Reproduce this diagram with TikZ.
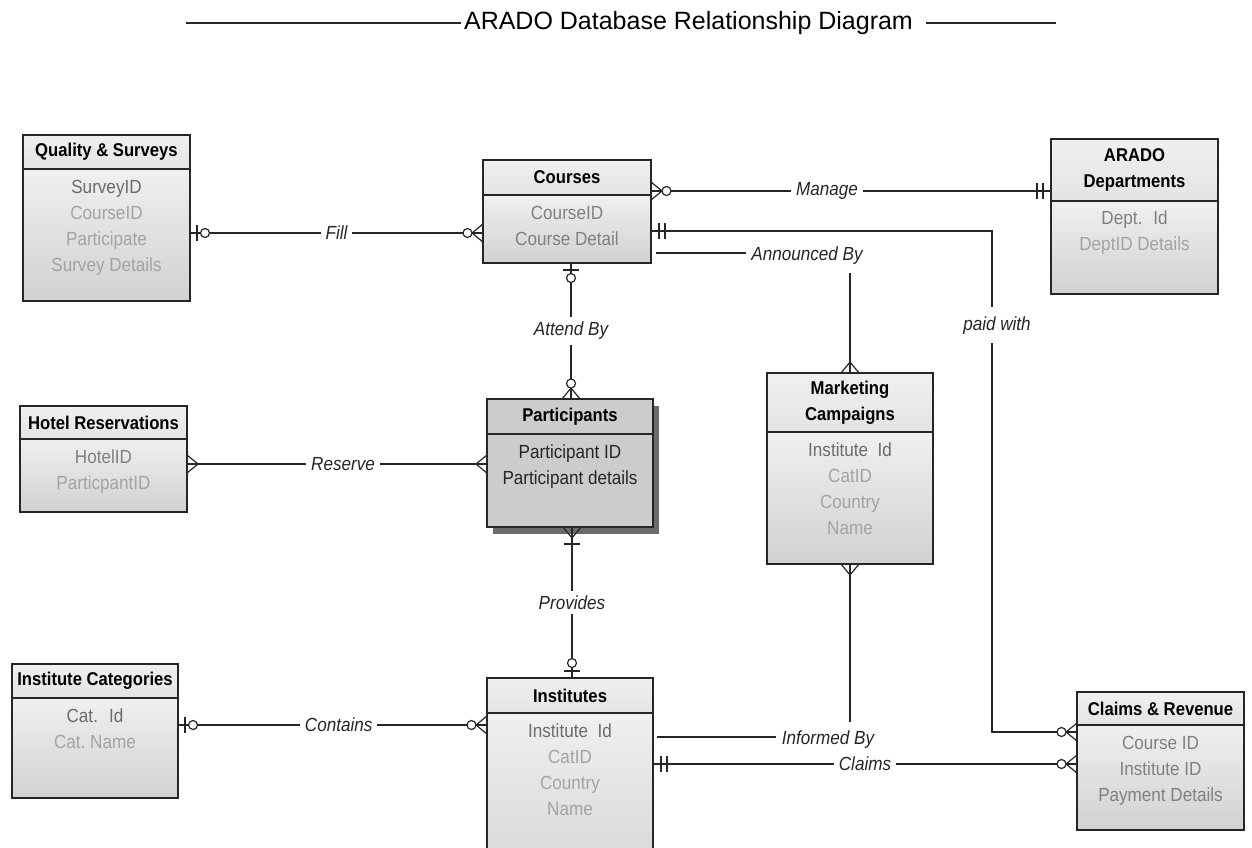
\documentclass[tikz,border=0pt]{standalone}
\usepackage{fontspec}
\setmainfont[FakeStretch=0.9]{Liberation Sans}
\newfontfamily\titlefont{Liberation Sans}
\usetikzlibrary{calc}
\usetikzlibrary{positioning}
\usetikzlibrary{shadows}

\definecolor{boxtop}{gray}{0.94}
\definecolor{boxbot}{gray}{0.82}
\definecolor{keytext}{gray}{0.42}
\definecolor{midtext}{gray}{0.50}
\definecolor{plaintext}{gray}{0.64}
\definecolor{partfill}{gray}{0.80}
\definecolor{partshadow}{gray}{0.42}

\tikzset{
    entity/.style = {
        draw=black!85,
        line width=1.3pt,
        outer sep=0pt,
        inner sep=0pt,
        anchor=north west,
        top color=boxtop,
        bottom color=boxbot,
    },
    header/.style = {
        entity,
        align=center,
        font=\bfseries\fontsize{18.5}{26}\selectfont,
        bottom color=boxtop!95!black,
    },
    fields/.style = {
        anchor=north,
        align=center,
        inner sep=0pt,
        font=\fontsize{19}{26}\selectfont,
        text=plaintext,
    },
    rel/.style = {
        line width=1.2pt,
        black!85,
    },
    relname/.style = {
        fill=white,
        inner sep=5pt,
        text=black!85,
        font=\itshape\fontsize{19}{22}\selectfont,
    },
    one/.pic = {
        \draw (8,-8) -- (8,8) (14,-8) -- (14,8);
    },
    zeroone/.pic = {
        \draw (7,-8) -- (7,8);
        \draw[fill=white] (15,0) circle[radius=4.5pt];
    },
    many/.pic = {
        \draw (0,-9) -- (11,0) -- (0,9);
    },
    zeromany/.pic = {
        \draw (0,-9) -- (11,0) -- (0,9);
        \draw[fill=white] (15.5,0) circle[radius=4.5pt];
    },
    onemany/.pic = {
        \draw (0,-9) -- (11,0) -- (0,9);
        \draw (17,-8) -- (17,8);
    },
}

\begin{document}
\begin{tikzpicture}[x=1pt, y=-1pt]
  \useasboundingbox (0,0) rectangle (1252,847);
  \clip (0,0) rectangle (1252,847);

  % Title with its rules
  \node[font=\titlefont\fontsize{25}{30}\selectfont, inner sep=3pt] (title) at (688.5,23) {ARADO Database Relationship Diagram};
  \coordinate (titleRuleL) at (186,23);
  \coordinate (titleRuleR) at (1056,23);
  \draw[rel] (titleRuleL) -- (title.west);
  \draw[rel] ([xshift=10pt]title.east) -- (titleRuleR);

  % Tables
  \node[header, minimum width=167, minimum height=34] (qsHead) at (23,135) {Quality \& Surveys};
  \node[entity, minimum width=167, minimum height=132] (qs) at (qsHead.south west) {};
  \node[fields] at ([yshift=-11pt]qs.north) {\textcolor{keytext}{SurveyID}\\CourseID\\Participate\\Survey Details};

  \node[header, minimum width=168, minimum height=35] (coursesHead) at (483,160) {Courses};
  \node[entity, minimum width=168, minimum height=68] (courses) at (coursesHead.south west) {};
  \node[fields, text=midtext] at ([yshift=-11pt]courses.north) {CourseID\\Course Detail};

  \node[header, minimum width=167, minimum height=62] (deptHead) at (1051,139) {ARADO\\Departments};
  \node[entity, minimum width=167, minimum height=93] (dept) at (deptHead.south west) {};
  \node[fields] at ([yshift=-10pt]dept.north) {\textcolor{midtext}{Dept.~ Id}\\DeptID Details};

  \node[header, minimum width=167, minimum height=33] (hotelHead) at (20,406) {Hotel Reservations};
  \node[entity, minimum width=167, minimum height=73] (hotel) at (hotelHead.south west) {};
  \node[fields] at ([yshift=-11pt]hotel.north) {\textcolor{midtext}{HotelID}\\ParticpantID};

  \node[header, minimum width=166, minimum height=35, fill=partfill, top color=partfill, bottom color=partfill,
        drop shadow={shadow xshift=6pt, shadow yshift=-7pt, fill=partshadow, opacity=1}] (partHead) at (487,399) {Participants};
  \node[entity, minimum width=166, minimum height=93, top color=partfill, bottom color=partfill,
        drop shadow={shadow xshift=6pt, shadow yshift=-7pt, fill=partshadow, opacity=1}] (part) at (partHead.south west) {};
  \node[fields, text=black!85] at ([yshift=-11pt]part.north) {Participant ID\\Participant details};

  \node[header, minimum width=166, minimum height=59] (mktHead) at (767,373) {Marketing\\Campaigns};
  \node[entity, minimum width=166, minimum height=132] (mkt) at (mktHead.south west) {};
  \node[fields] at ([yshift=-11pt]mkt.north) {\textcolor{keytext}{Institute~ Id}\\CatID\\Country\\Name};

  \node[header, minimum width=166, minimum height=34] (catsHead) at (12,664) {Institute Categories};
  \node[entity, minimum width=166, minimum height=100] (cats) at (catsHead.south west) {};
  \node[fields] at ([yshift=-11pt]cats.north) {\textcolor{keytext}{Cat.~ Id}\\Cat.\ Name};

  \node[header, minimum width=166, minimum height=35] (instHead) at (487,678) {Institutes};
  \node[entity, minimum width=166, minimum height=200] (inst) at (instHead.south west) {};
  \node[fields] at ([yshift=-11pt]inst.north) {\textcolor{keytext}{Institute~ Id}\\CatID\\Country\\Name};

  \node[header, minimum width=167, minimum height=33] (claimsHead) at (1077,692) {Claims \& Revenue};
  \node[entity, minimum width=167, minimum height=105] (claims) at (claimsHead.south west) {};
  \node[fields, text=midtext] at ([yshift=-11pt]claims.north) {Course ID\\Institute ID\\Payment Details};

  % Relationships
  \coordinate (fillL) at ([yshift=2pt]qs.east);
  \draw[rel] (fillL) pic{zeroone} -- node[relname]{Fill} (fillL -| courses.west) pic[rotate=180]{zeromany};

  \coordinate (mngL) at ([yshift=-13.5pt]coursesHead.east);
  \draw[rel] (mngL) pic{zeromany} -- node[relname, pos=0.44]{Manage} (mngL -| deptHead.west) pic[rotate=180]{one};

  \coordinate (payL) at ([yshift=-2pt]courses.east);
  \coordinate (payR) at ([yshift=45.5pt]claims.west);
  \draw[rel] (payL) pic{one} -| node[relname, pos=0.594, xshift=5pt, inner ysep=9pt]{paid with} ([xshift=-85pt]payR) -- (payR) pic[rotate=180]{zeromany};

  \coordinate (annL) at ([xshift=5pt, yshift=-24pt]courses.east);
  \draw[rel] (annL) -| node[relname, pos=0.5, xshift=-43pt, yshift=-3pt, inner ysep=8pt]{Announced By} (mktHead.north) pic[rotate=90]{many};

  \coordinate (attT) at ([xshift=4pt]courses.south);
  \draw[rel] (attT) pic[rotate=-90]{zeroone} -- node[relname]{Attend By} (attT |- partHead.north) pic[rotate=90]{zeromany};

  \coordinate (resL) at ([yshift=11.5pt]hotel.east);
  \draw[rel] (resL) pic{many} -- node[relname, pos=0.52]{Reserve} (resL -| part.west) pic[rotate=180]{many};

  \coordinate (provT) at ([xshift=2pt]part.south);
  \draw[rel] (provT) pic[rotate=-90]{onemany} -- node[relname]{Provides} (provT |- instHead.north) pic[rotate=90]{zeroone};

  \coordinate (conL) at ([yshift=23pt]cats.east);
  \draw[rel] (conL) pic{zeroone} -- node[relname, pos=0.52]{Contains} (conL -| inst.west) pic[rotate=180]{zeromany};

  \coordinate (infL) at ([xshift=4pt, yshift=76pt]inst.east);
  \draw[rel] (infL) -| node[relname, pos=0.5, xshift=-22pt, yshift=-3pt, inner xsep=6pt, inner ysep=9pt]{Informed By} (mkt.south) pic[rotate=-90]{many};

  \coordinate (clmL) at ([yshift=49pt]inst.east);
  \draw[rel] (clmL) pic{one} -- node[relname]{Claims} (clmL -| claims.west) pic[rotate=180]{zeromany};
\end{tikzpicture}
\end{document}
